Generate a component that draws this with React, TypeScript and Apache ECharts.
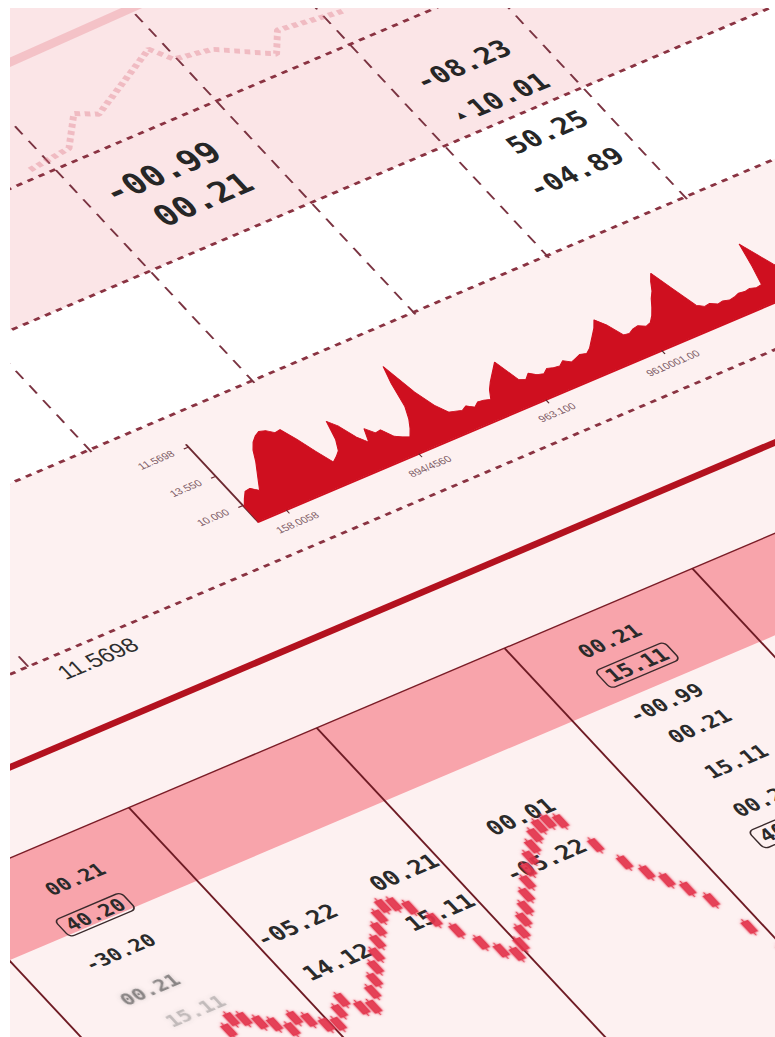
import React, { useEffect, useRef } from 'react';
import * as echarts from 'echarts';

// ---- data ----
// spiky area chart: heights above the baseline (one value every 6 sheet units)
const areaValues = [
  20, 28, 35, 36, 30, 40, 50, 60, 72, 80,
  85, 88, 86, 80, 81, 65, 45, 27, 31, 36,
  48, 70, 60, 42, 32, 47, 38, 39, 27, 23,
  20, 28, 38, 52, 80, 100, 62, 40, 28, 26,
  24, 27, 22, 26, 25, 23, 33, 40, 46, 52,
  58, 31, 28, 33, 28, 26, 30, 28, 27, 31,
  26, 28, 30, 28, 32, 38, 44, 50, 58, 48,
  31, 30, 33, 34, 30, 32, 38, 46, 55, 62,
  72, 80, 55, 30, 25, 26, 22, 23, 21, 22,
  24, 23, 24, 22, 23, 45, 72, 55, 38, 30,
  28, 32, 30, 34, 29, 31, 30, 33, 29, 31,
];
const xTickIndex = [5, 29, 52, 73];
const xTickLabels = ['158.0058', '894/4560', '963.100', '9610001.00'];
const yTickLabels = ['10.000', '13.550', '11.5698'];

// candlestick wave in the lower table: [open, close, low, high]
const candleValues = [
  [178, 192, 174, 196], [202, 188, 184, 206], [197, 183, 179, 201], [187, 173, 169, 191],
  [179, 165, 161, 183], [167, 153, 149, 171], [163, 177, 159, 181], [169, 155, 151, 173],
  [157, 143, 139, 161], [153, 139, 135, 157], [151, 165, 147, 169], [161, 175, 157, 179],
  [159, 145, 141, 163], [155, 141, 137, 159], [156, 170, 152, 174], [167, 181, 163, 185],
  [179, 193, 175, 197], [191, 205, 187, 209], [203, 217, 199, 221], [215, 229, 211, 233],
  [227, 241, 223, 245], [236, 250, 232, 254], [247, 233, 229, 251], [237, 223, 219, 241],
  [215, 201, 197, 219], [195, 181, 177, 199], [173, 159, 155, 177], [157, 143, 139, 161],
  [147, 133, 129, 151], [141, 155, 137, 159], [153, 167, 149, 171], [164, 178, 160, 182],
  [175, 189, 171, 193], [187, 201, 183, 205], [199, 213, 195, 217], [211, 225, 207, 229],
  [222, 236, 218, 240], [232, 246, 228, 250], [242, 256, 238, 260], [249, 263, 245, 267],
  [250, 264, 246, 268], [259, 245, 241, 263], [221, 207, 203, 225], [192, 178, 174, 196],
  [173, 159, 155, 177], [157, 143, 139, 161], [140, 126, 122, 144], [119, 105, 101, 123],
  [77, 63, 59, 81], [39, 25, 21, 43],
];

// faint blurred zigzag in the top-left background: [x, y]
const zigzagPoints = [
  [10, 11], [56, 16], [85, 48], [104, 37], [190, 80],
  [202, 60], [240, 53], [286, 22], [304, 45], [372, 36],
];

// table texts
const topCellValues = ['-00.99', '00.21', '-08.23', '▲10.01', '50.25', '-04.89'];
const lowerCellValues = [
  '00.21', '40.20', '-30.20', '00.21', '15.11',
  '-05.22', '14.12', '00.21', '15.11',
  '00.01', '-05.22',
  '00.21', '15.11', '-00.99', '00.21', '15.11', '00.21', '40.20',
];
const sideLabel = '11.5698';

// ---- layout (sheet coordinates, before the skew that imitates the tilted photo) ----
const W = 1400;
const H = 1380;
const MATRIX = [0.9205, -0.3907, 0.682, 0.731, -725.6, 285.5];
const topRows = [199, 338, 488, 675];
const topCols = [513, 690, 865, 1010, 1160];
const lowerCols = [80, 284, 488, 692, 896, 1100];
const topTextPos = [
  [771, 246, 33], [783, 290, 33], [1083, 266, 27], [1088, 314, 27], [1100, 367, 27], [1093, 418, 27],
];
// x, y, size, boxed, faint
const lowerTextPos = [
  [190, 903, 20, 0, 0], [180, 946, 20, 1, 0], [172, 993, 20, 0, 0], [168, 1042, 20, 0, 1], [188, 1082, 20, 0, 2],
  [329, 1040, 23, 0, 0], [334, 1093, 23, 0, 0], [451, 1033, 23, 0, 0], [450, 1087, 23, 0, 0],
  [582, 1027, 23, 0, 0], [570, 1080, 23, 0, 0],
  [779, 892, 21, 0, 0], [783, 927, 21, 1, 0], [778, 976, 21, 0, 0], [787, 1013, 21, 0, 0],
  [790, 1063, 21, 0, 0], [784, 1112, 21, 0, 0], [786, 1148, 21, 1, 0],
];

const MONO = "'DejaVu Sans Mono', 'Liberation Mono', monospace";
const SANS = "'Liberation Sans', Arial, sans-serif";

function buildGraphic() {
  const els: any[] = [];
  // backgrounds
  els.push({ type: 'rect', shape: { x: 0, y: 0, width: W, height: 488 }, style: { fill: '#fbe5e7' }, z: -10 });
  els.push({ type: 'rect', shape: { x: 0, y: 338, width: W, height: 150 }, style: { fill: '#ffffff' }, z: -9 });
  els.push({ type: 'rect', shape: { x: 0, y: 488, width: W, height: H - 488 }, style: { fill: '#fdf1f1' }, z: -10 });
  els.push({ type: 'rect', shape: { x: 0, y: 855, width: W, height: 100 }, style: { fill: '#f8a4ab' }, z: -9 });
  // faint thick bar top-left
  els.push({ type: 'line', shape: { x1: 690, y1: 76, x2: 900, y2: 72 }, style: { stroke: 'rgba(236,150,160,0.45)', lineWidth: 9 }, z: -8 });
  // dotted row lines
  topRows.forEach((y) => {
    els.push({ type: 'line', shape: { x1: 0, y1: y, x2: W, y2: y }, style: { stroke: '#8a3342', lineWidth: 3, lineDash: [6, 6] }, z: -5 });
  });
  // dashed column lines
  topCols.forEach((x) => {
    els.push({ type: 'line', shape: { x1: x, y1: 0, x2: x, y2: 497 }, style: { stroke: '#7a3341', lineWidth: 2, lineDash: [11, 9] }, z: -5 });
  });
  els.push({ type: 'line', shape: { x1: 308, y1: 661, x2: 308, y2: 675 }, style: { stroke: '#7a3341', lineWidth: 2 }, z: -5 });
  // thick red rule
  els.push({ type: 'line', shape: { x1: 0, y1: 766, x2: W, y2: 766 }, style: { stroke: '#b3121f', lineWidth: 7 }, z: -5 });
  // lower table
  els.push({ type: 'line', shape: { x1: 0, y1: 855, x2: W, y2: 855 }, style: { stroke: '#7a1d27', lineWidth: 1.5 }, z: -5 });
  lowerCols.forEach((x) => {
    els.push({ type: 'line', shape: { x1: x, y1: 855, x2: x, y2: H }, style: { stroke: '#6e1b24', lineWidth: 2 }, z: -5 });
  });
  // top texts
  topCellValues.forEach((t, i) => {
    const [x, y, s] = topTextPos[i];
    const isArrow = t.startsWith('▲');
    els.push({
      type: 'text', x, y, z: 1,
      style: {
        text: isArrow ? '{t|▲}' + t.slice(1) : t,
        rich: isArrow ? { t: { fontSize: 13, padding: [0, 5, 0, 0], fill: '#262626' } } : undefined,
        fill: '#262626', fontSize: s, fontFamily: MONO, fontWeight: 'bold',
        align: 'center', verticalAlign: 'middle',
      },
    });
  });
  // side label under the dotted rule
  els.push({
    type: 'text', x: 368, y: 696, z: 1,
    style: { text: sideLabel, fill: '#2e2e2e', fontSize: 23, fontFamily: SANS, align: 'center', verticalAlign: 'middle' },
  });
  // lower texts
  lowerCellValues.forEach((t, i) => {
    const [x, y, s, boxed, faint] = lowerTextPos[i];
    const style: any = {
      text: t, fill: faint === 2 ? 'rgba(110,110,110,0.35)' : faint === 1 ? 'rgba(60,60,60,0.55)' : '#2a2a2a',
      fontSize: s, fontFamily: MONO, fontWeight: 'bold', align: 'center', verticalAlign: 'middle',
    };
    if (faint) {
      style.textShadowBlur = 4;
      style.textShadowColor = 'rgba(90,90,90,0.5)';
    }
    if (boxed) {
      style.borderColor = '#3a2a2c';
      style.borderWidth = 1.5;
      style.borderRadius = 5;
      style.padding = [2, 6, 1, 6];
    }
    els.push({ type: 'text', x, y, z: 1, style });
  });
  return els;
}

export default function App() {
  const ref = useRef<HTMLDivElement>(null);
  useEffect(() => {
    if (!ref.current) return;
    const chart = echarts.init(ref.current, null, { renderer: 'svg' });
    const red = '#cf0f1f';
    const candleRed = '#e3344b';
    const option: any = {
      animation: false,
      backgroundColor: '#fbe5e7',
      graphic: { elements: buildGraphic() },
      grid: [
        { left: 592, top: 523.5, width: 654, height: 105 },
        { left: 592, top: 526, width: 654, height: 80 },
        { left: 195, top: 1000, width: 500, height: 300 },
        { left: 660, top: 100, width: 380, height: 100 },
      ],
      xAxis: [
        {
          type: 'category', gridIndex: 0, boundaryGap: false,
          data: areaValues.map((_, i) => i),
          axisLine: { show: true, lineStyle: { color: red, width: 2 } },
          axisTick: { show: true, interval: (i: number) => xTickIndex.includes(i), length: 5, lineStyle: { color: '#5a2a30', width: 1.2 } },
          axisLabel: {
            interval: (i: number) => xTickIndex.includes(i),
            formatter: (_v: any, i: number) => { const k = xTickIndex.indexOf(i); return k >= 0 ? xTickLabels[k] : ''; },
            fontSize: 10.5, color: '#7d5c66', margin: 12, fontFamily: SANS,
          },
          splitLine: { show: false },
        },
        { type: 'value', gridIndex: 1, show: false, min: 0, max: 1 },
        { type: 'category', gridIndex: 2, show: false, data: candleValues.map((_, i) => i) },
        { type: 'value', gridIndex: 3, show: false, min: 0, max: 380 },
      ],
      yAxis: [
        {
          type: 'value', gridIndex: 0, min: 0, max: 105,
          axisLine: { show: true, lineStyle: { color: '#6d2a32', width: 2 } },
          axisTick: { show: false }, axisLabel: { show: false }, splitLine: { show: false },
        },
        {
          type: 'value', gridIndex: 1, min: 0, max: 2, interval: 1,
          axisLine: { show: false },
          axisTick: { show: true, length: 5, lineStyle: { color: '#6d2a32', width: 1.2 } },
          axisLabel: { formatter: (v: number) => yTickLabels[v] ?? '', fontSize: 10.5, color: '#7d5c66', margin: 16, fontFamily: SANS },
          splitLine: { show: false },
        },
        { type: 'value', gridIndex: 2, show: false, min: 0, max: 300 },
        { type: 'value', gridIndex: 3, show: false, min: 0, max: 100 },
      ],
      series: [
        {
          type: 'line', xAxisIndex: 0, yAxisIndex: 0, data: areaValues, symbol: 'none',
          lineStyle: { color: red, width: 1 }, areaStyle: { color: red, opacity: 1 }, z: 3,
        },
        { type: 'line', xAxisIndex: 1, yAxisIndex: 1, data: [], symbol: 'none' },
        {
          type: 'candlestick', xAxisIndex: 2, yAxisIndex: 2, data: candleValues, barWidth: 8,
          itemStyle: {
            color: candleRed, color0: candleRed, borderColor: candleRed, borderColor0: candleRed, borderWidth: 1.5,
            opacity: 0.85, shadowBlur: 3, shadowColor: 'rgba(227,52,75,0.6)',
          },
          z: 3,
        },
        {
          type: 'line', xAxisIndex: 3, yAxisIndex: 3, data: zigzagPoints, symbol: 'none',
          lineStyle: { color: 'rgba(222,110,125,0.35)', width: 6, type: [5, 4] }, z: 1,
        },
      ],
    };
    chart.setOption(option);
    return () => chart.dispose();
  }, []);
  return (
    <div style={{ position: 'absolute', left: 10, top: 8, width: 765, height: 1029, overflow: 'hidden', background: '#fbe5e7' }}>
      <div
        ref={ref}
        style={{
          position: 'absolute', left: 0, top: 0, width: W, height: H,
          transformOrigin: '0 0', transform: `matrix(${MATRIX.join(',')})`,
        }}
      />
    </div>
  );
}
